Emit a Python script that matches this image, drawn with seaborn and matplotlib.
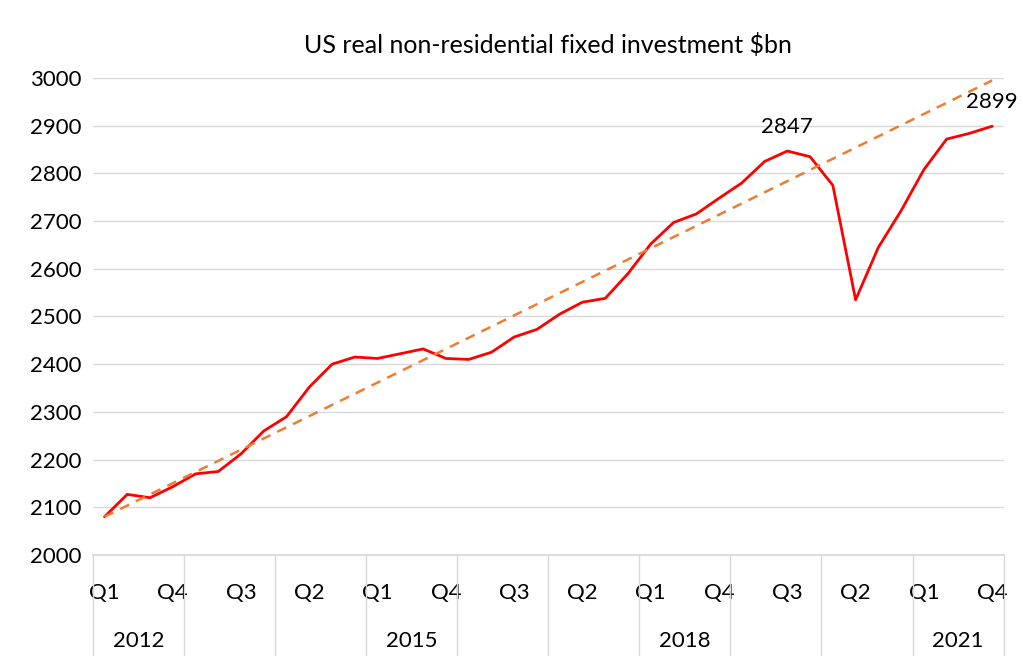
import numpy as np
import pandas as pd
import seaborn as sns
import matplotlib.pyplot as plt

sns.set_theme(style="white")
plt.rcParams['font.family'] = ['Lato', 'DejaVu Sans']
plt.rcParams['text.color'] = 'black'
plt.rcParams['xtick.color'] = 'black'
plt.rcParams['ytick.color'] = 'black'

years = list(range(2012, 2022))
quarters = ["Q1", "Q2", "Q3", "Q4"]
investment = [2080, 2127, 2120, 2143, 2170, 2175, 2212, 2260,
              2290, 2352, 2400, 2415, 2412, 2422, 2432, 2412,
              2410, 2425, 2457, 2473, 2505, 2530, 2538, 2590,
              2652, 2697, 2715, 2748, 2780, 2825, 2847, 2835,
              2775, 2535, 2645, 2722, 2808, 2872, 2884, 2899]
trend_ends = [2080, 2995]
year_labels = ["2012", "2015", "2018", "2021"]
year_label_pos = [0, 3, 6, 9]

df = pd.DataFrame({"idx": np.arange(len(investment)), "value": investment})
df["q"] = [quarters[i % 4] for i in range(len(df))]

fig, ax = plt.subplots(figsize=(10.23, 6.67), dpi=100)
fig.subplots_adjust(left=0.091, right=0.981, top=0.883, bottom=0.168)

sns.lineplot(data=df, x="idx", y="value", color="#FF0000", linewidth=2, ax=ax)
ax.plot([0, len(df) - 1], trend_ends, color="#ED7D31", linestyle=(0, (4, 3)), linewidth=1.8)

ax.set_xlim(-0.5, len(df) - 0.5)
ax.set_ylim(2000, 3000)
ax.set_yticks(range(2000, 3001, 100))
ax.tick_params(axis="y", labelsize=16, length=0, pad=8)
ax.yaxis.grid(True, color="#D9D9D9", linewidth=1)
for s in ["top", "right", "left"]:
    ax.spines[s].set_visible(False)
ax.spines["bottom"].set_color("#D9D9D9")

tick_idx = list(range(0, len(df), 3))
ax.set_xticks(tick_idx)
ax.set_xticklabels([df["q"][i] for i in tick_idx], fontsize=16)
ax.tick_params(axis="x", length=0, pad=20)
ax.set_xlabel("")
ax.set_ylabel("")

# year separators and year labels
for k in range(len(years) + 1):
    ax.plot([k * 4 - 0.5] * 2, [0, -0.21], transform=ax.get_xaxis_transform(),
            color="#D9D9D9", linewidth=1, clip_on=False)
for lbl, p in zip(year_labels, year_label_pos):
    ax.text(p * 4 + 1.5, -0.18, lbl, transform=ax.get_xaxis_transform(),
            ha="center", va="center", fontsize=16)

for i in [30, 39]:
    ax.annotate(str(investment[i]), (i, investment[i]), xytext=(0, 10),
                textcoords="offset points", ha="center", va="bottom", fontsize=16)

ax.set_title("US real non-residential fixed investment $bn", fontsize=18, pad=18)
fig.savefig("out.png")
